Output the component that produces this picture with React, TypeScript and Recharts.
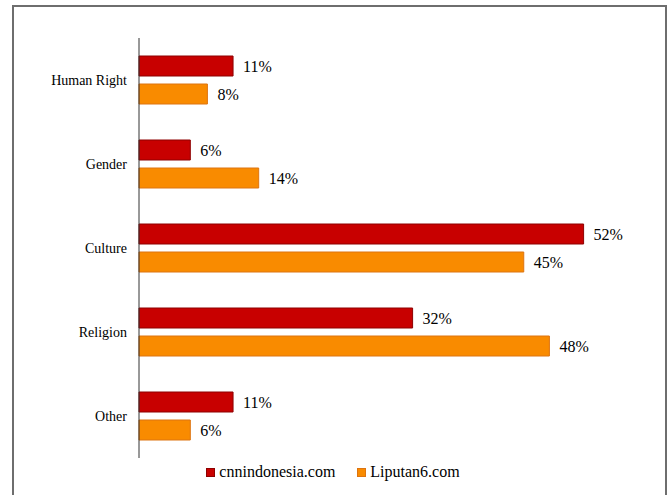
import React from 'react';
import { BarChart, Bar, XAxis, YAxis, Legend, LabelList } from 'recharts';

const categories = ['Human Right', 'Gender', 'Culture', 'Religion', 'Other'];
const cnnValues = [11, 6, 52, 32, 11];
const liputanValues = [8, 14, 45, 48, 6];

const SERIF = "'Liberation Serif', 'DejaVu Serif', serif";

const series = [
  { key: 'cnn', name: 'cnnindonesia.com', fill: '#C80000', stroke: '#8E0000' },
  { key: 'liputan', name: 'Liputan6.com', fill: '#F98B00', stroke: '#DD7410' },
];

const data = categories.map((c, i) => ({
  category: c,
  cnn: cnnValues[i],
  liputan: liputanValues[i],
}));

const CustomLegend = () => (
  <div
    style={{
      display: 'flex',
      justifyContent: 'center',
      paddingTop: 5,
      fontFamily: SERIF,
      fontSize: 16,
      color: '#000',
    }}
  >
    {series.map((s) => (
      <span key={s.key} style={{ display: 'inline-flex', alignItems: 'center', margin: '0 11px' }}>
        <span
          style={{
            display: 'inline-block',
            width: 7,
            height: 7,
            background: s.fill,
            border: `1px solid ${s.stroke}`,
            marginRight: 4,
          }}
        />
        {s.name}
      </span>
    ))}
  </div>
);

export default function App() {
  return (
    <div
      style={{
        position: 'absolute',
        left: 12,
        top: 5,
        width: 651,
        height: 500,
        border: '2px solid #6e6e6e',
        borderBottom: 'none',
        background: '#fff',
        fontFamily: SERIF,
      }}
    >
      <BarChart
        layout="vertical"
        width={651}
        height={490}
        data={data}
        margin={{ top: 31, right: 13, left: 0, bottom: 15 }}
        barSize={20}
        barGap={8}
        barCategoryGap={18}
        style={{ fontFamily: SERIF }}
      >
        <XAxis type="number" domain={[0, 60]} hide />
        <YAxis
          type="category"
          dataKey="category"
          width={125}
          tickSize={0}
          tickMargin={12}
          axisLine={{ stroke: '#333', strokeWidth: 1 }}
          tickLine={false}
          tick={{ fill: '#000', fontSize: 14, fontFamily: SERIF }}
        />
        <Legend verticalAlign="bottom" height={24} content={<CustomLegend />} />
        {series.map((s) => (
          <Bar
            key={s.key}
            dataKey={s.key}
            name={s.name}
            fill={s.fill}
            stroke={s.stroke}
            strokeWidth={1}
            isAnimationActive={false}
          >
            <LabelList
              dataKey={s.key}
              position="right"
              offset={10}
              formatter={(v: any) => `${v}%`}
              fill="#000"
              fontSize={16}
              fontFamily={SERIF}
            />
          </Bar>
        ))}
      </BarChart>
    </div>
  );
}
